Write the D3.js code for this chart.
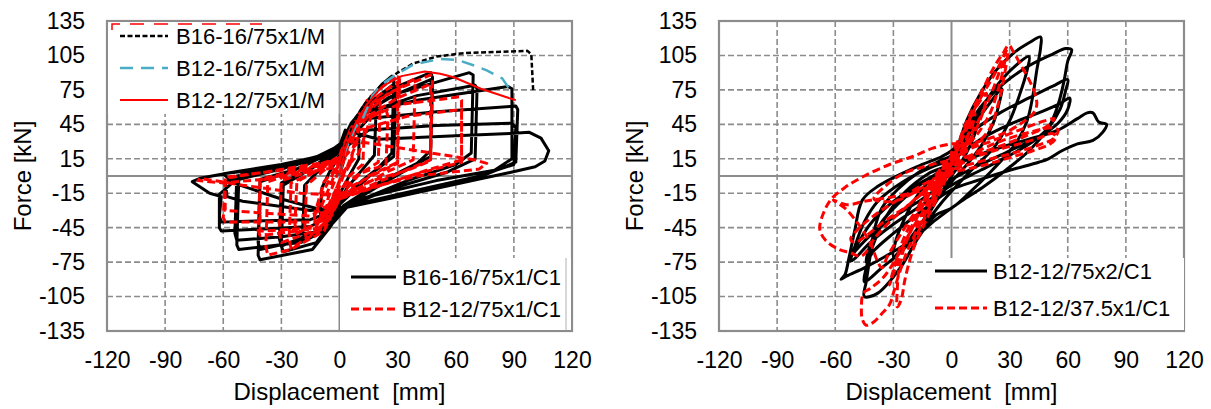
<!DOCTYPE html>
<html>
<head>
<meta charset="utf-8">
<script src="https://cdn.jsdelivr.net/npm/d3@7"></script>
<style>
  body { margin: 0; background: #fff; }
  text { font-family: "Liberation Sans", Arial, sans-serif; fill: #000; }
</style>
</head>
<body>
<svg id="chart" width="1211" height="409"></svg>
<script>
// axis ticks (same for both panels)
var xTicks = [-120, -90, -60, -30, 0, 30, 60, 90, 120];
var yTicks = [-135, -105, -75, -45, -15, 15, 45, 75, 105, 135];

// ---- left panel: cyclic tests (displacement mm, force kN) ----
var b16c1 = [
  [0,0],[4,25],[9,42],[10,38],[10,15],[6,3],[0,-16],[-4,-30],[-9,-38],[-10,-32],[-9,-10],[-5,4],[0,18],
  [5,36],[12,55],[18,66],[19,62],[18,18],[12,6],[4,-10],[0,-22],[-5,-38],[-12,-50],[-18,-54],[-19,-48],[-18,-8],[-10,6],[-3,16],[0,22],
  [5,40],[12,60],[22,80],[27,87],[28,83],[27,20],[20,7],[8,-9],[0,-24],[-5,-42],[-12,-58],[-29,-66],[-30,-61],[-29,-8],[-18,3],[-6,15],[0,24],
  [6,44],[15,63],[28,80],[29,76],[28,17],[18,4],[0,-25],[-7,-45],[-30,-61],[-31,-55],[-30,-6],[-15,6],[0,25],
  [6,46],[14,62],[30,78],[47,90],[48,86],[47,22],[40,11],[20,-6],[2,-26],[-5,-45],[-14,-64],[-41,-73],[-42,-69],[-41,-5],[-25,4],[-8,17],[0,25],
  [8,48],[25,68],[47,84],[48,80],[47,17],[30,1],[2,-27],[-8,-48],[-25,-58],[-41,-64],[-42,-58],[-41,-3],[-20,7],[0,25],
  [10,52],[30,72],[67,90],[69,88],[68,20],[60,10],[35,-4],[5,-25],[-6,-46],[-20,-58],[-52,-64],[-53,-60],[-52,-3],[-30,6],[-10,16],[0,24],
  [12,54],[40,70],[70,79],[71,76],[70,15],[55,3],[25,-12],[3,-27],[-8,-48],[-30,-53],[-53,-56],[-54,-50],[-53,0],[-25,8],[0,24],
  [12,55],[40,66],[87,78],[89,76],[89,15],[80,5],[50,-4],[10,-20],[-2,-32],[-15,-44],[-61,-48],[-62,-45],[-62,-16],[-50,2],[-30,9],[0,22],
  [15,50],[50,56],[91,61],[92,58],[91,12],[75,1],[30,-16],[2,-27],[-15,-38],[-61,-40],[-62,-35],[-61,-18],[-67,-15],[-76,-5],[-72,-2],[-56,3],[-30,10],[0,21],
  [15,40],[50,44],[89,46],[91,42],[90,10],[70,-1],[30,-17],[2,-27],[-15,-30],[-50,-22],[-58,-18],[-59,-5],[-45,3],[-20,12],[-6,20],[0,26],
  [3,40],[20,32],[60,35],[88,37],[98,38],[104,33],[108,22],[106,13],[101,8],[88,3],[71,-3],[30,-18],[2,-28],[-3,-40],[-8,-30],[-30,-20],[-55,-6],[-60,2],[-40,6],[-15,14],[-3,24],[2,30]
];
var b12c1 = [
  [0,0],[5,30],[12,50],[13,45],[12,10],[5,0],[0,-15],[-5,-30],[-12,-42],[-13,-34],[-8,-5],[0,10],
  [3,25],[7,40],[8,34],[6,12],[2,0],[-3,-22],[-7,-34],[-6,-20],[-2,-2],[2,15],
  [2,20],[6,38],[10,45],[9,30],[4,8],[-2,-12],[-6,-30],[-10,-40],[-9,-25],[-4,-5],[0,12],
  [4,32],[15,55],[16,50],[10,20],[2,4],[-4,-20],[-12,-44],[-13,-36],[-8,-12],[-2,6],[3,22],
  [5,35],[13,58],[20,68],[21,64],[20,12],[10,1],[0,-18],[-6,-38],[-17,-55],[-18,-48],[-17,-8],[-8,5],[0,14],
  [5,38],[15,68],[30,88],[31,84],[30,11],[20,3],[5,-10],[0,-20],[-8,-45],[-25,-63],[-26,-55],[-25,-6],[-12,4],[0,15],
  [6,40],[20,70],[30,82],[30,12],[15,0],[0,-20],[-8,-48],[-25,-64],[-37,-69],[-38,-62],[-37,-5],[-20,4],[0,15],
  [6,42],[20,66],[38,84],[39,80],[38,14],[25,4],[0,-20],[-10,-46],[-30,-58],[-31,-50],[-30,-4],[-12,6],[0,16],
  [4,30],[10,48],[24,58],[25,52],[24,10],[10,2],[-2,-15],[-8,-38],[-22,-50],[-23,-42],[-22,-5],[-8,8],[0,18],
  [6,42],[25,72],[47,88],[48,84],[47,13],[35,5],[15,-5],[0,-20],[-8,-45],[-41,-52],[-42,-48],[-41,-4],[-20,5],[0,16],
  [8,45],[30,68],[47,80],[47,14],[30,2],[0,-20],[-10,-45],[-41,-48],[-41,-3],[-20,6],[0,15],
  [8,45],[30,62],[62,69],[63,66],[63,14],[45,5],[0,-20],[-12,-40],[-59,-40],[-60,-36],[-59,-2],[-40,3],[0,14],
  [10,40],[35,52],[63,58],[63,12],[40,2],[0,-19],[-15,-35],[-59,-30],[-59,-1],[-30,5],[0,12],
  [10,30],[40,22],[70,14],[76,11],[72,6],[40,0],[0,-17],[-20,-15],[-50,-8],[-72,-2],[-73,-4],[-60,-6],[-40,-3],[0,8]
];
// monotonic tests
var b16m = [[0,0],[3,25],[8,50],[14,65],[22,80],[30,90],[38,98],[50,104],[64,107],[80,108],[97,109],[99,106],[100,73]];
var b1216m = [[0,0],[3,22],[8,42],[12,50],[17,70],[22,80],[28,87],[38,97],[52,102],[61,101],[70,96],[76,92],[84,85],[88,75]];
var b12m = [[0,0],[3,24],[8,45],[14,62],[22,78],[32,87],[44,91],[52,89],[59,86],[66,81],[73,76],[82,71],[89,67],[91,66]];

// ---- right panel ----
var b12x2 = [
  [0,5],[5,22],[10,38],[14,50],[13,42],[10,28],[5,12],[0,0],[-5,-14],[-10,-28],[-14,-40],[-13,-32],[-9,-18],[-4,-4],[0,5],
  [6,26],[12,45],[20,64],[26,76],[25,66],[22,48],[16,28],[8,10],[0,-5],[-8,-22],[-16,-42],[-24,-60],[-30,-70],[-29,-58],[-25,-40],[-18,-18],[-10,-2],[0,8],
  [6,30],[14,55],[24,80],[33,96],[40,104],[39,92],[35,70],[30,48],[22,25],[12,8],[3,-8],[-6,-25],[-15,-45],[-26,-66],[-36,-80],[-45,-92],[-44,-80],[-40,-58],[-34,-36],[-24,-14],[-12,2],[0,12],
  [5,35],[8,49],[15,72],[23,92],[32,107],[40,116],[46,121],[46,112],[44,92],[42,70],[39,48],[33,28],[21,5],[9,-15],[0,-28],[-8,-34],[-18,-56],[-26,-79],[-38,-102],[-45,-105],[-44,-92],[-42,-70],[-40,-48],[-36,-28],[-28,-12],[-18,2],[-5,14],[0,18],
  [8,42],[16,62],[28,82],[40,96],[52,106],[59,111],[62,110],[60,100],[58,82],[55,62],[50,42],[40,22],[28,5],[16,-10],[5,-22],[-8,-38],[-20,-55],[-32,-68],[-45,-80],[-54,-87],[-57,-90],[-55,-86],[-53,-72],[-50,-48],[-46,-21],[-38,-9],[-18,8],[-5,17],[0,22],
  [10,38],[25,55],[40,68],[52,78],[60,84],[59,75],[56,58],[50,42],[42,30],[30,18],[15,5],[0,-8],[-15,-25],[-30,-42],[-42,-58],[-50,-72],[-52,-74],[-50,-62],[-45,-40],[-38,-22],[-25,-5],[-10,8],[0,14],
  [15,32],[30,45],[45,55],[56,63],[61,68],[60,58],[55,46],[45,34],[30,22],[15,10],[0,-3],[-15,-20],[-30,-36],[-42,-52],[-50,-66],[-52,-70],[-48,-58],[-42,-42],[-32,-25],[-18,-8],[0,8],
  [20,22],[40,32],[55,40],[65,50],[70,55],[73,55],[76,47],[80,45],[78,38],[73,31],[65,28],[57,22],[50,15],[45,12],[30,5],[15,-3],[0,-12],[-15,-30],[-30,-50],[-40,-65],[-44,-75],[-42,-60],[-36,-40],[-28,-25],[-18,-10],[-5,5],[0,10]
];
var b1237 = [
  [0,10],[5,30],[10,48],[9,38],[5,22],[0,10],[-5,-8],[-10,-25],[-9,-15],[-5,0],[0,12],
  [0,20],[5,35],[12,55],[10,40],[4,25],[-4,10],[-12,-10],[-18,-30],[-14,-20],[-6,0],[0,18],
  [6,38],[12,58],[18,72],[17,60],[13,42],[7,25],[0,12],[-6,-8],[-12,-30],[-18,-52],[-20,-60],[-18,-45],[-13,-25],[-6,-5],[0,12],
  [8,45],[15,68],[22,88],[27,104],[28,107],[27,95],[24,75],[20,55],[14,38],[7,25],[0,15],[-8,-5],[-16,-30],[-24,-60],[-30,-85],[-32,-95],[-30,-82],[-26,-60],[-20,-38],[-12,-15],[-5,5],[0,15],
  [8,48],[16,75],[22,95],[27,108],[29.5,114],[32,108],[36,96],[40,84],[43,72],[44,62],[42,54],[36,46],[28,38],[18,32],[8,28],[0,28],[-10,24],[-20,17],[-32,10],[-45,0],[-55,-10],[-62,-20],[-66,-32],[-68,-46],[-65,-56],[-58,-64],[-52,-67],[-47,-70],[-44,-66],[-40,-55],[-32,-40],[-22,-25],[-12,-10],[0,5],
  [10,15],[22,22],[35,28],[45,33],[52,37],[54,34],[51,28],[42,22],[30,16],[18,10],[8,6],[0,2],[-10,-20],[-20,-45],[-28,-70],[-35,-88],[-42,-98],[-45.5,-102],[-46.5,-115],[-46,-125],[-44,-130],[-40,-127],[-36,-120],[-32,-112],[-30,-102],[-27,-85],[-22,-62],[-15,-38],[-8,-15],[0,5],
  [8,30],[16,55],[22,78],[26,98],[27,105],[29,110],[27,85],[24,62],[20,42],[14,30],[8,24],[0,16],[-8,-2],[-15,-25],[-22,-50],[-27,-80],[-28,-100],[-28,-114],[-26,-108],[-24,-90],[-20,-65],[-14,-42],[-7,-18],[0,5],
  [12,20],[25,30],[40,38],[52,42],[55,40],[53,33],[45,27],[32,20],[18,14],[5,8],[0,5],[-12,-5],[-25,-18],[-38,-32],[-48,-46],[-52,-55],[-50,-58],[-44,-52],[-35,-40],[-22,-25],[-10,-8],[0,5],
  [-15,-12],[-30,-18],[-45,-22],[-54,-25],[-61,-21],[-55,-28],[-48,-42],[-42,-58],[-38,-75],[-36,-80],[-33,-70],[-26,-50],[-18,-30],[-8,-10],[0,5],
  [8,22],[20,30],[35,40],[48,48],[53,50],[50,44],[40,36],[25,26],[10,18],[0,14],[-10,10],[-25,2],[-35,-10],[-40,-20],[-30,-22],[-15,-10],[0,10]
];

var svg = d3.select("#chart");
var FONT = 23;

function panel(ox, series, legend) {
  var x = d3.scaleLinear().domain([-120, 120]).range([ox + 107, ox + 572]);
  var y = d3.scaleLinear().domain([-135, 135]).range([331, 21]);
  var g = svg.append("g");

  // grid
  g.selectAll(".vg").data(xTicks.slice(1, -1)).enter().append("line")
    .attr("x1", d => x(d)).attr("x2", d => x(d)).attr("y1", y(135)).attr("y2", y(-135))
    .attr("stroke", "#8c8c8c").attr("stroke-width", d => d == 0 ? 2 : 1.6)
    .attr("stroke-dasharray", d => d == 0 ? null : "6,3");
  g.selectAll(".hg").data(yTicks.slice(1, -1)).enter().append("line")
    .attr("x1", x(-120)).attr("x2", x(120)).attr("y1", d => y(d)).attr("y2", d => y(d))
    .attr("stroke", "#8c8c8c").attr("stroke-width", 1.6).attr("stroke-dasharray", "6,3");
  g.append("line").attr("x1", x(-120)).attr("x2", x(120)).attr("y1", y(0)).attr("y2", y(0))
    .attr("stroke", "#8c8c8c").attr("stroke-width", 2);
  g.append("rect").attr("x", x(-120)).attr("y", y(135))
    .attr("width", x(120) - x(-120)).attr("height", y(-135) - y(135))
    .attr("fill", "none").attr("stroke", "#8c8c8c").attr("stroke-width", 2.2);

  // axes (labels only), plain hyphen for minus like the original
  var fmt = function (d) { return String(d); };
  var xa = g.append("g").attr("transform", "translate(0," + y(-135) + ")")
    .call(d3.axisBottom(x).tickValues(xTicks).tickSize(0).tickPadding(21).tickFormat(fmt));
  var ya = g.append("g").attr("transform", "translate(" + x(-120) + ",0)")
    .call(d3.axisLeft(y).tickValues(yTicks).tickSize(0).tickPadding(22).tickFormat(fmt));
  [xa, ya].forEach(function (a) {
    a.select(".domain").remove();
    a.selectAll("text").attr("font-size", FONT).attr("font-family", "Liberation Sans, Arial, sans-serif").style("fill", "#000");
  });

  g.append("text").attr("x", (x(-120) + x(120)) / 2).attr("y", 400)
    .attr("text-anchor", "middle").attr("font-size", 24).attr("xml:space", "preserve")
    .text("Displacement  [mm]");
  g.append("text").attr("transform", "translate(" + (ox + 31) + "," + y(0) + ") rotate(-90)")
    .attr("text-anchor", "middle").attr("font-size", 24).text("Force [kN]");

  // data
  var line = d3.line().x(d => x(d[0])).y(d => y(d[1]));
  series.forEach(function (s) {
    g.append("path").datum(s.data)
      .attr("d", line.curve(s.curve || d3.curveLinear))
      .attr("fill", "none").attr("stroke", s.color).attr("stroke-width", s.width)
      .attr("stroke-dasharray", s.dash || null)
      .attr("stroke-linejoin", "round");
  });

  // legends
  legend.forEach(function (L) {
    var lg = g.append("g");
    lg.append("rect").attr("x", ox + L.box[0]).attr("y", L.box[1])
      .attr("width", L.box[2]).attr("height", L.box[3]).attr("fill", "#fff");
    if (L.edge) lg.append("line").attr("x1", ox + L.edge).attr("x2", ox + L.edge)
      .attr("y1", L.box[1]).attr("y2", L.box[1] + L.box[3]).attr("stroke", "#b0b0b0").attr("stroke-width", 1);
    L.items.forEach(function (it, i) {
      var yy = L.y0 + i * L.dy;
      lg.append("line").attr("x1", ox + L.sx[0]).attr("x2", ox + L.sx[1]).attr("y1", yy).attr("y2", yy)
        .attr("stroke", it.color).attr("stroke-width", it.width).attr("stroke-dasharray", it.dash || null);
      lg.append("text").attr("x", ox + L.tx).attr("y", yy).attr("dy", "0.36em")
        .attr("font-size", 22).text(it.name);
    });
  });
  return g;
}

var sBlackC = {name: "B16-16/75x1/C1", data: b16c1, color: "#000", width: 3};
var sRedC = {name: "B12-12/75x1/C1", data: b12c1, color: "#ff0000", width: 3, dash: "8,4"};
var sB16M = {name: "B16-16/75x1/M", data: b16m, color: "#000", width: 2.5, dash: "5,2.5"};
var sB1216M = {name: "B12-16/75x1/M", data: b1216m, color: "#4bacc6", width: 2.5, dash: "13,8"};
var sB12M = {name: "B12-12/75x1/M", data: b12m, color: "#ff0000", width: 2};

var left = panel(0, [sBlackC, sRedC, sB16M, sB1216M, sB12M], [
  {box: [108, 22, 231, 92], edge: 339, sx: [120, 168], tx: 176, y0: 36, dy: 32, items: [sB16M, sB1216M, sB12M]},
  {box: [340, 258, 231, 72], edge: 566, sx: [351, 396], tx: 402, y0: 277, dy: 32, items: [sBlackC, sRedC]}
]);
// red dashed fragment along the top of the upper legend
left.append("path").attr("d", "M112,30 V24 H262").attr("fill", "none")
  .attr("stroke", "#ff0000").attr("stroke-width", 1.5).attr("stroke-dasharray", "14,10");

var sX2 = {name: "B12-12/75x2/C1", data: b12x2, color: "#000", width: 3, curve: d3.curveCatmullRom.alpha(0.5)};
var sH = {name: "B12-12/37.5x1/C1", data: b1237, color: "#ff0000", width: 3, dash: "8,4", curve: d3.curveCatmullRom.alpha(0.5)};
panel(612, [sX2, sH], [
  {box: [323, 258, 249, 72], sx: [323, 375], tx: 381, y0: 271, dy: 37, items: [sX2, sH]}
]);
</script>
</body>
</html>
